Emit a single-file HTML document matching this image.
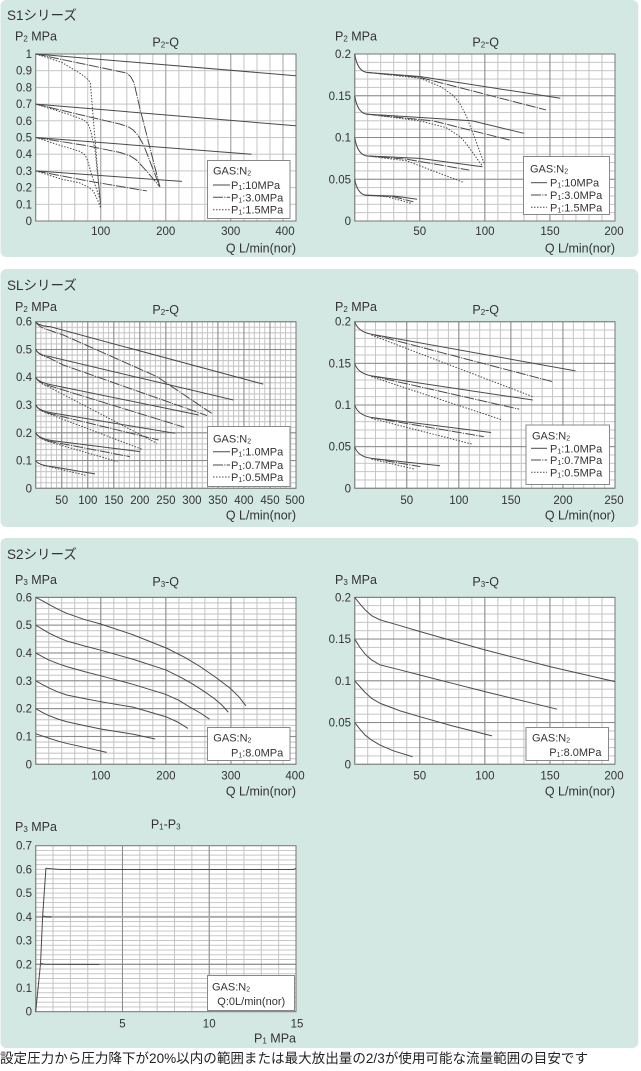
<!DOCTYPE html>
<html><head><meta charset="utf-8"><style>
html,body{margin:0;padding:0;background:#fff;}
svg{display:block;}
text{font-family:"Liberation Sans","Noto Sans CJK JP",sans-serif;fill:#333;}
.tk{font-size:11.5px;}
.yt{font-size:11.5px;text-anchor:end;}
.xt{font-size:11.5px;text-anchor:middle;}
.ax{font-size:12.5px;}
.ti{font-size:12.5px;text-anchor:middle;}
.sec{font-size:13.5px;}
.lg{font-size:11px;}
.c path{vector-effect:non-scaling-stroke;fill:none;stroke:#4a4a4a;stroke-width:1;}
.c path.dd,.l.dd{stroke-dasharray:10 1.2 1.2 1.2;}
.c path.dt,.l.dt{stroke-dasharray:1.5 1.5;}
.l{stroke:#4a4a4a;stroke-width:1;fill:none;}
.bd{fill:none;stroke:#777;stroke-width:1;}
.lb{fill:#fff;stroke:#888;stroke-width:1;}
</style></head><body>
<svg width="641" height="1071" viewBox="0 0 641 1071" xmlns="http://www.w3.org/2000/svg">
<defs>
<pattern id="mA" patternUnits="userSpaceOnUse" x="35.2" y="53.5" width="13.015" height="16.7"><path d="M0.5 0V16.7M0 0.5H13.015" stroke="#c4c4c4" stroke-width="1"/></pattern>
<pattern id="mB" patternUnits="userSpaceOnUse" x="354.2" y="53.5" width="13.015" height="8.35"><path d="M0.5 0V8.35M0 0.5H13.015" stroke="#c4c4c4" stroke-width="1"/></pattern>
<pattern id="MB" patternUnits="userSpaceOnUse" x="354.2" y="53.5" width="65.075" height="41.75"><path d="M0.5 0V41.75M0 0.5H65.075" stroke="#8a8a8a" stroke-width="1"/></pattern>
<pattern id="mC" patternUnits="userSpaceOnUse" x="35.2" y="321.2" width="5.206" height="5.554"><path d="M0.5 0V5.554M0 0.5H5.206" stroke="#c4c4c4" stroke-width="1"/></pattern>
<pattern id="MC" patternUnits="userSpaceOnUse" x="35.2" y="321.2" width="26.03" height="27.77"><path d="M0.5 0V27.77M0 0.5H26.03" stroke="#8a8a8a" stroke-width="1"/></pattern>
<pattern id="mD" patternUnits="userSpaceOnUse" x="354.2" y="321.2" width="10.412" height="8.33"><path d="M0.5 0V8.33M0 0.5H10.412" stroke="#c4c4c4" stroke-width="1"/></pattern>
<pattern id="MD" patternUnits="userSpaceOnUse" x="354.2" y="321.2" width="52.06" height="41.65"><path d="M0.5 0V41.65M0 0.5H52.06" stroke="#8a8a8a" stroke-width="1"/></pattern>
<pattern id="mE" patternUnits="userSpaceOnUse" x="35.2" y="596.8" width="13.015" height="5.566"><path d="M0.5 0V5.566M0 0.5H13.015" stroke="#c4c4c4" stroke-width="1"/></pattern>
<pattern id="ME" patternUnits="userSpaceOnUse" x="35.2" y="596.8" width="65.075" height="27.83"><path d="M0.5 0V27.83M0 0.5H65.075" stroke="#8a8a8a" stroke-width="1"/></pattern>
<pattern id="mF" patternUnits="userSpaceOnUse" x="354.2" y="596.8" width="13.015" height="8.35"><path d="M0.5 0V8.35M0 0.5H13.015" stroke="#c4c4c4" stroke-width="1"/></pattern>
<pattern id="MF" patternUnits="userSpaceOnUse" x="354.2" y="596.8" width="65.075" height="41.75"><path d="M0.5 0V41.75M0 0.5H65.075" stroke="#8a8a8a" stroke-width="1"/></pattern>
<pattern id="mG" patternUnits="userSpaceOnUse" x="35.2" y="845.2" width="17.353" height="4.743"><path d="M0.5 0V4.743M0 0.5H17.353" stroke="#c4c4c4" stroke-width="1"/></pattern>
<pattern id="MG" patternUnits="userSpaceOnUse" x="35.2" y="845.2" width="86.77" height="166"><path d="M0.5 0V166" stroke="#8a8a8a" stroke-width="1"/></pattern>
</defs>

<!-- panels -->
<rect x="0.5" y="0" width="637.8" height="257" rx="6" fill="#d3e8e3"/>
<rect x="0.5" y="269" width="637.8" height="258" rx="6" fill="#d3e8e3"/>
<rect x="0.5" y="538" width="637.8" height="510" rx="6" fill="#d3e8e3"/>

<!-- ============ S1 ============ -->
<text class="sec" x="7" y="20">S1シリーズ</text>

<!-- Chart A -->
<text class="ax" x="15" y="40.5">P<tspan font-size="8" dy="1">2</tspan><tspan dy="-1"> MPa</tspan></text>
<text class="ti" x="165.7" y="46.5">P<tspan font-size="8" dy="1">2</tspan><tspan dy="-1">-Q</tspan></text>
<rect x="35.7" y="54" width="260.3" height="167" fill="#fff"/>
<rect x="35.7" y="54" width="260.3" height="167" fill="url(#mA)"/>
<path d="M100.7 54V221M165.7 54V221M230.7 54V221M283 54V221" stroke="#a6a6a6" stroke-width="1"/>
<rect class="bd" x="35.7" y="54" width="260.3" height="167"/>
<g class="c" transform="translate(35.7,221) scale(0.65,-167)">
<path d="M0 1L400 0.87"/>
<path d="M0 0.7L400 0.57"/>
<path d="M0 0.5L332 0.4"/>
<path d="M0 0.3L225 0.237"/>
<path class="dd" d="M0 1L140 0.886L146 0.865L151 0.83L160 0.68L191 0.205"/>
<path class="dd" d="M0 0.7L70 0.635L130 0.58L142 0.565L150 0.545L158 0.51L166 0.455L191 0.205"/>
<path class="dd" d="M0 0.5L80 0.45L130 0.41L145 0.39L155 0.365L171 0.297L191 0.205"/>
<path class="dd" d="M0 0.3L80 0.24L171 0.18"/>
<path class="dt" d="M0 1L40 0.95L70 0.88L78 0.856L84 0.83L100 0.078"/>
<path class="dt" d="M0 0.7L50 0.64L73 0.607L80 0.585L84 0.55L88 0.48L91 0.437L100 0.098"/>
<path class="dt" d="M0 0.5L40 0.45L68 0.417L76 0.395L80 0.36L86 0.277L100 0.118"/>
<path class="dt" d="M0 0.3L40 0.25L68 0.228L82 0.2L89 0.178L96 0.118L100 0.078"/>
</g>
<g class="yt">
<text x="32" y="58">1</text><text x="32" y="74.7">0.9</text><text x="32" y="91.4">0.8</text><text x="32" y="108.1">0.7</text><text x="32" y="124.8">0.6</text><text x="32" y="141.5">0.5</text><text x="32" y="158.2">0.4</text><text x="32" y="174.9">0.3</text><text x="32" y="191.6">0.2</text><text x="32" y="208.3">0.1</text><text x="32" y="225">0</text>
</g>
<g class="xt"><text x="100.7" y="235">100</text><text x="165.7" y="235">200</text><text x="230.7" y="235">300</text><text x="285" y="235">400</text></g>
<text class="ax" x="296" y="252.5" text-anchor="end">Q L/min(nor)</text>
<rect class="lb" x="207.5" y="160.5" width="82.5" height="58"/>
<text class="lg" x="213" y="174.3">GAS:N<tspan font-size="7" dy="1">2</tspan></text>
<path class="l" d="M213 185H230"/><path class="l dd" d="M213 197.3H230"/><path class="l dt" d="M213 209.7H230"/>
<text class="lg" x="231" y="189">P<tspan font-size="7" dy="1">1</tspan><tspan dy="-1">:10MPa</tspan></text>
<text class="lg" x="231" y="201.3">P<tspan font-size="7" dy="1">1</tspan><tspan dy="-1">:3.0MPa</tspan></text>
<text class="lg" x="231" y="213.7">P<tspan font-size="7" dy="1">1</tspan><tspan dy="-1">:1.5MPa</tspan></text>

<!-- Chart B -->
<text class="ax" x="335" y="40.5">P<tspan font-size="8" dy="1">2</tspan><tspan dy="-1"> MPa</tspan></text>
<text class="ti" x="485.7" y="46.5">P<tspan font-size="8" dy="1">2</tspan><tspan dy="-1">-Q</tspan></text>
<rect x="354.7" y="54" width="260.3" height="167" fill="#fff"/>
<rect x="354.7" y="54" width="260.3" height="167" fill="url(#mB)"/>
<rect x="354.7" y="54" width="260.3" height="167" fill="url(#MB)"/>
<rect class="bd" x="354.7" y="54" width="260.3" height="167"/>
<g class="c" transform="translate(354.7,221) scale(1.3015,-835)">
<path d="M0 0.2Q2 0.18 9 0.178L50 0.173L158 0.147"/>
<path d="M0 0.15Q2 0.13 9 0.128L90 0.12L130 0.105"/>
<path d="M0 0.1Q2 0.08 9 0.078L50 0.075L98 0.065"/>
<path d="M0 0.05Q2 0.033 8 0.031L30 0.03L48 0.026"/>
<path class="dd" d="M9 0.178L50 0.172L147 0.133"/>
<path class="dd" d="M9 0.128L60 0.12L119 0.097"/>
<path class="dd" d="M9 0.078L40 0.074L88 0.061"/>
<path class="dd" d="M8 0.031L30 0.029L45 0.023"/>
<path class="dt" d="M9 0.178L50 0.171L66 0.161L76 0.15L81 0.14L86 0.125L99.5 0.069"/>
<path class="dt" d="M9 0.128L50 0.12L70 0.112L81 0.101L86 0.092L98.5 0.065"/>
<path class="dt" d="M9 0.078L40 0.072L84 0.046"/>
<path class="dt" d="M8 0.031L25 0.029L44 0.021"/>
</g>
<g class="yt"><text x="351" y="58">0.2</text><text x="351" y="99.75">0.15</text><text x="351" y="141.5">0.1</text><text x="351" y="183.25">0.05</text><text x="351" y="225">0</text></g>
<g class="xt"><text x="419.8" y="235">50</text><text x="484.9" y="235">100</text><text x="550" y="235">150</text><text x="614" y="235">200</text></g>
<text class="ax" x="615" y="252.5" text-anchor="end">Q L/min(nor)</text>
<rect class="lb" x="523.5" y="156.5" width="86" height="58"/>
<text class="lg" x="530" y="172.3">GAS:N<tspan font-size="7" dy="1">2</tspan></text>
<path class="l" d="M531 182.7H547"/><path class="l dd" d="M531 195H547"/><path class="l dt" d="M531 207.3H547"/>
<text class="lg" x="550" y="186.7">P<tspan font-size="7" dy="1">1</tspan><tspan dy="-1">:10MPa</tspan></text>
<text class="lg" x="550" y="199">P<tspan font-size="7" dy="1">1</tspan><tspan dy="-1">:3.0MPa</tspan></text>
<text class="lg" x="550" y="211.3">P<tspan font-size="7" dy="1">1</tspan><tspan dy="-1">:1.5MPa</tspan></text>

<!-- ============ SL ============ -->
<text class="sec" x="7" y="290">SLシリーズ</text>

<!-- Chart C -->
<text class="ax" x="15" y="311">P<tspan font-size="8" dy="1">2</tspan><tspan dy="-1"> MPa</tspan></text>
<text class="ti" x="165.7" y="314">P<tspan font-size="8" dy="1">2</tspan><tspan dy="-1">-Q</tspan></text>
<rect x="35.7" y="321.7" width="260.3" height="166.6" fill="#fff"/>
<rect x="35.7" y="321.7" width="260.3" height="166.6" fill="url(#mC)"/>
<rect x="35.7" y="321.7" width="260.3" height="166.6" fill="url(#MC)"/>
<rect class="bd" x="35.7" y="321.7" width="260.3" height="166.6"/>
<g class="c" transform="translate(35.7,488.3) scale(0.5206,-277.7)">
<path d="M0 0.6Q5 0.585 27.5 0.582L437 0.375"/>
<path d="M0 0.5Q5 0.48 27.5 0.474L380 0.318"/>
<path d="M0 0.4Q5 0.38 40 0.369L313 0.264"/>
<path d="M0 0.3Q5 0.28 30 0.272L268 0.198"/>
<path d="M0 0.2Q5 0.18 30 0.172L200 0.132"/>
<path d="M0 0.1Q5 0.085 25 0.08L114 0.052"/>
<path class="dd" d="M0 0.6Q5 0.58 25 0.57L53 0.552L233 0.402L338 0.27"/>
<path class="dd" d="M0 0.5Q5 0.48 25 0.47L53 0.444L329 0.262"/>
<path class="dd" d="M0 0.4Q5 0.38 25 0.37L285 0.22"/>
<path class="dd" d="M0 0.3Q5 0.28 25 0.27L236 0.174"/>
<path class="dd" d="M0 0.2Q5 0.18 25 0.17L181 0.114"/>
<path class="dt" d="M0 0.4Q5 0.38 25 0.365L233 0.162"/>
<path class="dt" d="M0 0.3Q5 0.28 25 0.268L205 0.14"/>
<path class="dt" d="M0 0.2Q5 0.18 25 0.168L157 0.096"/>
<path class="dt" d="M0 0.1Q5 0.085 25 0.078L98 0.046"/>
</g>
<g class="yt"><text x="32" y="325.7">0.6</text><text x="32" y="353.5">0.5</text><text x="32" y="381.2">0.4</text><text x="32" y="409">0.3</text><text x="32" y="436.8">0.2</text><text x="32" y="464.5">0.1</text><text x="32" y="492.3">0</text></g>
<g class="xt"><text x="61.7" y="504">50</text><text x="87.8" y="504">100</text><text x="113.8" y="504">150</text><text x="139.8" y="504">200</text><text x="165.9" y="504">250</text><text x="191.9" y="504">300</text><text x="217.9" y="504">350</text><text x="243.9" y="504">400</text><text x="270" y="504">450</text><text x="295" y="504">500</text></g>
<text class="ax" x="296" y="519.5" text-anchor="end">Q L/min(nor)</text>
<rect class="lb" x="207.5" y="426.5" width="82.5" height="60"/>
<text class="lg" x="213" y="442.3">GAS:N<tspan font-size="7" dy="1">2</tspan></text>
<path class="l" d="M213 451.7H230"/><path class="l dd" d="M213 465H230"/><path class="l dt" d="M213 477H230"/>
<text class="lg" x="231" y="455.7">P<tspan font-size="7" dy="1">1</tspan><tspan dy="-1">:1.0MPa</tspan></text>
<text class="lg" x="231" y="469">P<tspan font-size="7" dy="1">1</tspan><tspan dy="-1">:0.7MPa</tspan></text>
<text class="lg" x="231" y="481">P<tspan font-size="7" dy="1">1</tspan><tspan dy="-1">:0.5MPa</tspan></text>

<!-- Chart D -->
<text class="ax" x="335" y="311">P<tspan font-size="8" dy="1">2</tspan><tspan dy="-1"> MPa</tspan></text>
<text class="ti" x="485.7" y="314">P<tspan font-size="8" dy="1">2</tspan><tspan dy="-1">-Q</tspan></text>
<rect x="354.7" y="321.7" width="260.3" height="166.6" fill="#fff"/>
<rect x="354.7" y="321.7" width="260.3" height="166.6" fill="url(#mD)"/>
<rect x="354.7" y="321.7" width="260.3" height="166.6" fill="url(#MD)"/>
<rect class="bd" x="354.7" y="321.7" width="260.3" height="166.6"/>
<g class="c" transform="translate(354.7,488.3) scale(1.0412,-833)">
<path d="M0 0.2Q3 0.188 16 0.185L212 0.141"/>
<path d="M0 0.15Q3 0.138 16 0.135L171 0.106"/>
<path d="M0 0.1Q3 0.088 16 0.085L131 0.067"/>
<path d="M0 0.05Q3 0.038 16 0.036L82 0.027"/>
<path class="dd" d="M16 0.185L190 0.128"/>
<path class="dd" d="M16 0.135L158 0.095"/>
<path class="dd" d="M16 0.085L124 0.062"/>
<path class="dd" d="M16 0.036L63 0.026"/>
<path class="dt" d="M16 0.184L171 0.11"/>
<path class="dt" d="M16 0.134L142 0.082"/>
<path class="dt" d="M16 0.084L113 0.053"/>
<path class="dt" d="M16 0.035L58 0.023"/>
</g>
<g class="yt"><text x="351" y="325.7">0.2</text><text x="351" y="367.35">0.15</text><text x="351" y="409">0.1</text><text x="351" y="450.65">0.05</text><text x="351" y="492.3">0</text></g>
<g class="xt"><text x="406.8" y="504">50</text><text x="458.8" y="504">100</text><text x="510.9" y="504">150</text><text x="563" y="504">200</text><text x="614" y="504">250</text></g>
<text class="ax" x="615" y="519.5" text-anchor="end">Q L/min(nor)</text>
<rect class="lb" x="526" y="425" width="83.5" height="59.5"/>
<text class="lg" x="532" y="439.7">GAS:N<tspan font-size="7" dy="1">2</tspan></text>
<path class="l" d="M531 448.3H547"/><path class="l dd" d="M531 460H547"/><path class="l dt" d="M531 472.3H547"/>
<text class="lg" x="550" y="452.3">P<tspan font-size="7" dy="1">1</tspan><tspan dy="-1">:1.0MPa</tspan></text>
<text class="lg" x="550" y="464">P<tspan font-size="7" dy="1">1</tspan><tspan dy="-1">:0.7MPa</tspan></text>
<text class="lg" x="550" y="476.3">P<tspan font-size="7" dy="1">1</tspan><tspan dy="-1">:0.5MPa</tspan></text>

<!-- ============ S2 ============ -->
<text class="sec" x="7" y="559">S2シリーズ</text>

<!-- Chart E -->
<text class="ax" x="15" y="583.8">P<tspan font-size="8" dy="1">3</tspan><tspan dy="-1"> MPa</tspan></text>
<text class="ti" x="165.7" y="586">P<tspan font-size="8" dy="1">3</tspan><tspan dy="-1">-Q</tspan></text>
<rect x="35.7" y="597.3" width="260.3" height="167" fill="#fff"/>
<rect x="35.7" y="597.3" width="260.3" height="167" fill="url(#mE)"/>
<rect x="35.7" y="597.3" width="260.3" height="167" fill="url(#ME)"/>
<rect class="bd" x="35.7" y="597.3" width="260.3" height="167"/>
<g class="c" transform="translate(35.7,764.3) scale(0.6508,-278.3)">
<path d="M0 0.6L10 0.588L20 0.575L35 0.556L47.7 0.5425L75 0.52L100 0.504L150 0.465L201.5 0.417L230 0.383L252.8 0.351L278 0.31L299 0.273L312 0.243L323 0.21"/>
<path d="M0 0.5L10 0.486L20 0.472L35 0.455L47.7 0.443L75 0.425L100 0.41L150 0.377L200 0.339L225 0.31L243.5 0.285L260 0.26L274 0.237L286 0.213L296 0.187"/>
<path d="M0 0.4L10 0.387L20 0.375L35 0.361L47.7 0.351L75 0.333L100 0.318L150 0.287L200 0.251L220 0.23L238 0.204L254 0.183L267 0.162"/>
<path d="M0 0.3L10 0.287L20 0.275L35 0.259L47.7 0.249L75 0.236L100 0.225L150 0.205L200 0.171L218 0.152L234 0.129"/>
<path d="M0 0.2L10 0.187L20 0.175L35 0.162L47.7 0.153L75 0.139L100 0.127L150 0.108L183.5 0.091"/>
<path d="M0 0.11L10 0.102L20 0.094L35 0.083L47.7 0.075L75 0.061L109 0.043"/>
</g>
<g class="yt"><text x="32" y="601.3">0.6</text><text x="32" y="629.2">0.5</text><text x="32" y="657">0.4</text><text x="32" y="684.8">0.3</text><text x="32" y="712.6">0.2</text><text x="32" y="740.5">0.1</text><text x="32" y="768.3">0</text></g>
<g class="xt"><text x="100.8" y="779.5">100</text><text x="165.9" y="779.5">200</text><text x="230.9" y="779.5">300</text><text x="295" y="779.5">400</text></g>
<text class="ax" x="296" y="795.5" text-anchor="end">Q L/min(nor)</text>
<rect class="lb" x="207.5" y="727.5" width="82.5" height="33"/>
<text class="lg" x="213.3" y="741.7">GAS:N<tspan font-size="7" dy="1">2</tspan></text>
<text class="lg" x="231" y="756.3">P<tspan font-size="7" dy="1">1</tspan><tspan dy="-1">:8.0MPa</tspan></text>

<!-- Chart F -->
<text class="ax" x="335" y="583.8">P<tspan font-size="8" dy="1">3</tspan><tspan dy="-1"> MPa</tspan></text>
<text class="ti" x="485.7" y="586">P<tspan font-size="8" dy="1">3</tspan><tspan dy="-1">-Q</tspan></text>
<rect x="354.7" y="597.3" width="260.3" height="167" fill="#fff"/>
<rect x="354.7" y="597.3" width="260.3" height="167" fill="url(#mF)"/>
<rect x="354.7" y="597.3" width="260.3" height="167" fill="url(#MF)"/>
<rect class="bd" x="354.7" y="597.3" width="260.3" height="167"/>
<g class="c" transform="translate(354.7,764.3) scale(1.3015,-835)">
<path d="M0 0.2L4 0.192L8 0.185L13 0.178L19.5 0.173L35 0.166L50 0.159L75 0.148L100 0.137L150 0.117L200 0.099"/>
<path d="M0 0.15L4 0.14L8 0.132L13 0.125L19.5 0.119L35 0.113L50 0.107L75 0.097L100 0.087L155.5 0.066"/>
<path d="M0 0.1L4 0.093L8 0.086L13 0.079L19.5 0.073L35 0.064L50 0.057L75 0.046L105.5 0.034"/>
<path d="M0 0.05L4 0.042L8 0.035L13 0.029L19.5 0.023L30 0.016L44.5 0.009"/>
</g>
<g class="yt"><text x="351" y="601.3">0.2</text><text x="351" y="643">0.15</text><text x="351" y="684.8">0.1</text><text x="351" y="726.5">0.05</text><text x="351" y="768.3">0</text></g>
<g class="xt"><text x="419.8" y="779.5">50</text><text x="484.9" y="779.5">100</text><text x="550" y="779.5">150</text><text x="614" y="779.5">200</text></g>
<text class="ax" x="615" y="795.5" text-anchor="end">Q L/min(nor)</text>
<rect class="lb" x="526" y="727.5" width="82.5" height="33"/>
<text class="lg" x="532" y="741.3">GAS:N<tspan font-size="7" dy="1">2</tspan></text>
<text class="lg" x="549.3" y="756">P<tspan font-size="7" dy="1">1</tspan><tspan dy="-1">:8.0MPa</tspan></text>

<!-- Chart G -->
<text class="ax" x="15" y="831">P<tspan font-size="8" dy="1">3</tspan><tspan dy="-1"> MPa</tspan></text>
<text class="ti" x="165.7" y="828.5" font-size="12">P<tspan font-size="8" dy="1">1</tspan><tspan dy="-1">-P</tspan><tspan font-size="8" dy="1">3</tspan></text>
<rect x="35.7" y="845.7" width="260.3" height="166" fill="#fff"/>
<rect x="35.7" y="845.7" width="260.3" height="166" fill="url(#mG)"/>
<rect x="35.7" y="845.7" width="260.3" height="166" fill="url(#MG)"/>
<path d="M35.7 916.9H296" stroke="#ababab" stroke-width="2"/>
<path d="M35.7 964.3H296" stroke="#7a7a7a" stroke-width="1"/>
<rect class="bd" x="35.7" y="845.7" width="260.3" height="166"/>
<g class="c" transform="translate(35.7,1011.7) scale(17.353,-237.1)">
<path d="M0 0L0.28 0.204L0.4 0.404L0.59 0.605L1.4 0.6L14.85 0.6L15 0.604"/>
<path d="M0.28 0.204L0.5 0.2L3.67 0.199"/>
<path d="M0.4 0.404L0.6 0.4L0.92 0.4"/>
</g>
<g class="yt"><text x="32" y="849.7">0.7</text><text x="32" y="873.4">0.6</text><text x="32" y="897.2">0.5</text><text x="32" y="920.9">0.4</text><text x="32" y="944.6">0.3</text><text x="32" y="968.3">0.2</text><text x="32" y="992">0.1</text><text x="32" y="1015.7">0</text></g>
<g class="xt"><text x="122.5" y="1027.5">5</text><text x="209.2" y="1027.5">10</text><text x="297" y="1027.5">15</text></g>
<text class="ax" x="296" y="1042.5" text-anchor="end">P<tspan font-size="8" dy="1">1</tspan><tspan dy="-1"> MPa</tspan></text>
<rect class="lb" x="207.5" y="975.5" width="87" height="35"/>
<text class="lg" x="212" y="990.7">GAS:N<tspan font-size="7" dy="1">2</tspan></text>
<text class="lg" x="217.3" y="1005">Q:0L/min(nor)</text>

<!-- footer -->
<text x="0" y="1063" font-size="13.5" textLength="588" lengthAdjust="spacingAndGlyphs" style="fill:#222;">設定圧力から圧力降下が20%以内の範囲または最大放出量の2/3が使用可能な流量範囲の目安です</text>
</svg>
</body></html>
